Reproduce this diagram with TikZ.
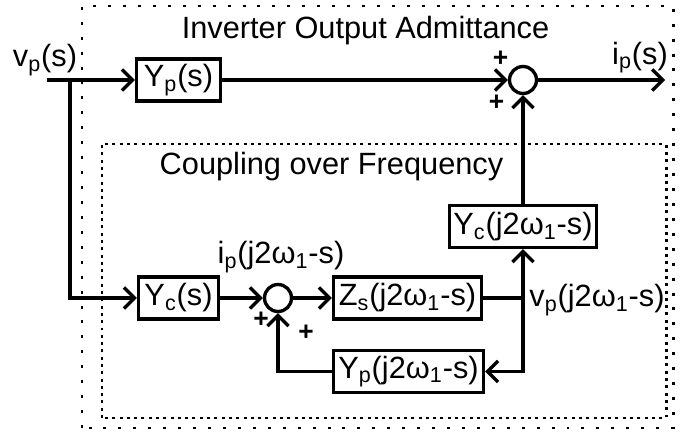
\documentclass[tikz,border=0pt]{standalone}
\usepackage{fontspec}
\setmainfont{Liberation Sans}
\usetikzlibrary{positioning,calc,arrows.meta}

\tikzset{
  blk/.style={draw, line width=1.9pt, inner sep=1pt, minimum height=0.84cm},
  sumnode/.style={draw, circle, line width=1.9pt, minimum size=0.54cm, inner sep=0pt},
  sig/.style={line width=1.9pt, -{Straight Barb[length=6pt,width=12pt,line width=1.9pt]}},
  wire/.style={line width=1.9pt},
  sgn/.style={font=\bfseries\fontsize{15}{15}\selectfont, inner sep=0pt},
  outerframe/.style={line width=1.7pt, dash pattern=on 1.7pt off 6.8pt},
  innerframe/.style={line width=1.7pt, dash pattern=on 1.7pt off 2.45pt},
}

\begin{document}
\begin{tikzpicture}[font=\fontsize{17.5}{20}\selectfont]
  \useasboundingbox (0,0) rectangle (13.88,8.68);

  % Frames
  \draw[outerframe] (1.64,0.12) rectangle (13.46,8.56);
  \draw[innerframe] (2.04,0.32) rectangle (13.32,5.80);
  \node (ttlA) at (7.31,8.06) {Inverter Output Admittance};
  \node (ttlB) at (6.63,5.35) {Coupling over Frequency};

  % Direct path
  \coordinate (vin) at (0.94,7.08);
  \coordinate (br) at (1.40,7.08);
  \coordinate (iout) at (13.30,7.08);
  \node[blk, minimum width=1.68cm] (Yp) at (3.57,7.08) {Y\textsubscript{p}(s)};
  \node[sumnode] (sumA) at (10.46,7.08) {};
  \draw[sig] (vin) -- (Yp.west);
  \draw[sig] (Yp.east) -- (sumA.west);
  \draw[sig] (sumA.east) -- (iout);
  \node (vps) at (0.9,7.48) {v\textsubscript{p}(s)};
  \node (ips) at (12.8,7.53) {i\textsubscript{p}(s)};
  \node[sgn] at (10.01,7.50) {+};
  \node[sgn] at (9.93,6.63) {+};

  % Coupling path
  \node[blk, minimum width=1.60cm] (Yc) at (3.57,2.72) {Y\textsubscript{c}(s)};
  \node[sumnode] (sumB) at (5.56,2.72) {};
  \node[blk, minimum width=2.96cm] (Zs) at (8.15,2.72) {Z\textsubscript{s}(j2ω\textsubscript{1}-s)};
  \node[blk, minimum width=2.94cm] (Ycj) at (10.46,4.15) {Y\textsubscript{c}(j2ω\textsubscript{1}-s)};
  \node[blk, minimum width=3.00cm] (Ypj) at (8.17,1.25) {Y\textsubscript{p}(j2ω\textsubscript{1}-s)};
  \coordinate (jn) at (10.46,2.72);

  \draw[sig] (br) |- (Yc.west);
  \draw[sig] (Yc.east) -- (sumB.west);
  \draw[sig] (sumB.east) -- (Zs.west);
  \draw[wire] (Zs.east) -- (jn);
  \draw[sig] (jn) -- (Ycj.south);
  \draw[sig] (jn) |- (Ypj.east);
  \draw[sig] (Ypj.west) -| (sumB.south);
  \draw[sig] (Ycj.north) -- (sumA.south);

  \node (ipj) at (5.62,3.54) {i\textsubscript{p}(j2ω\textsubscript{1}-s)};
  \node (vpj) at (11.94,2.68) {v\textsubscript{p}(j2ω\textsubscript{1}-s)};
  \node[sgn] at (5.22,2.28) {+};
  \node[sgn] at (6.12,2.03) {+};
\end{tikzpicture}
\end{document}
